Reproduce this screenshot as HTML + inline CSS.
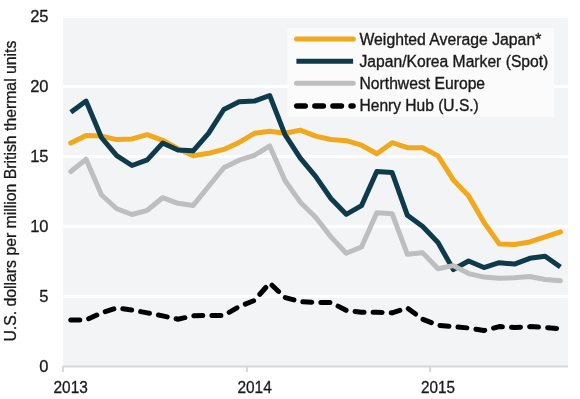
<!DOCTYPE html>
<html><head><meta charset="utf-8"><style>
html,body{margin:0;padding:0;background:#fff;width:580px;height:399px;overflow:hidden}
svg{display:block;will-change:transform}
</style></head><body>
<svg width="580" height="399" viewBox="0 0 580 399">
<rect x="0" y="0" width="580" height="399" fill="#FFFFFF"/>
<rect x="63" y="18" width="505" height="348.5" fill="#F3F4F6"/>
<rect x="63" y="295.0" width="505" height="3" fill="#FFFFFF"/>
<rect x="63" y="225.0" width="505" height="3" fill="#FFFFFF"/>
<rect x="63" y="155.0" width="505" height="3" fill="#FFFFFF"/>
<rect x="63" y="85.0" width="505" height="3" fill="#FFFFFF"/>
<rect x="287.5" y="28" width="266.5" height="89" fill="#FBFBFB"/>
<rect x="63" y="365.5" width="505" height="2" fill="#D8D8D8"/>
<rect x="61.9" y="366" width="2" height="6" fill="#D8D8D8"/>
<rect x="245.9" y="366" width="2" height="6" fill="#D8D8D8"/>
<rect x="429.1" y="366" width="2" height="6" fill="#D8D8D8"/>
<polyline points="70.80,143.10 86.10,135.40 101.40,136.10 116.70,139.60 132.00,138.90 147.30,134.70 162.60,140.30 177.90,148.70 193.20,155.70 208.50,153.32 223.80,149.40 239.10,142.40 254.40,133.30 269.70,131.20 285.00,133.30 300.30,130.08 315.60,136.10 330.90,139.46 346.20,140.72 361.50,145.20 376.80,153.74 392.10,142.68 407.40,147.72 422.70,147.72 438.00,155.84 453.30,179.92 468.60,195.88 483.90,222.20 499.20,243.90 514.50,244.46 529.80,241.94 545.10,236.90 560.40,231.86" fill="none" stroke="#F2A81C" stroke-width="5" stroke-linejoin="round" stroke-linecap="round"/>
<polyline points="70.80,112.30 86.10,101.10 101.40,137.50 116.70,155.70 132.00,165.50 147.30,159.90 162.60,143.10 177.90,150.10 193.20,150.80 208.50,133.30 223.80,109.50 239.10,101.80 254.40,101.10 269.70,95.50 285.00,134.70 300.30,158.22 315.60,176.42 330.90,198.54 346.20,214.36 361.50,205.68 376.80,171.52 392.10,172.50 407.40,215.34 422.70,226.54 438.00,242.50 453.30,269.52 468.60,260.98 483.90,267.56 499.20,262.66 514.50,264.06 529.80,258.32 545.10,256.22 560.40,267.00" fill="none" stroke="#0D3B4C" stroke-width="5" stroke-linejoin="round" stroke-linecap="butt"/>
<polyline points="70.80,171.52 86.10,159.20 101.40,194.76 116.70,208.76 132.00,214.50 147.30,210.30 162.60,197.70 177.90,203.30 193.20,205.40 208.50,186.50 223.80,167.74 239.10,160.18 254.40,155.42 269.70,145.90 285.00,180.48 300.30,202.18 315.60,217.30 330.90,236.90 346.20,253.28 361.50,246.98 376.80,212.68 392.10,213.66 407.40,254.26 422.70,252.86 438.00,268.82 453.30,265.60 468.60,273.58 483.90,277.08 499.20,278.34 514.50,277.78 529.80,276.52 545.10,279.46 560.40,280.86" fill="none" stroke="#BEBEBE" stroke-width="5" stroke-linejoin="round" stroke-linecap="round"/>
<polyline points="70.80,319.90 86.10,319.90 101.40,312.90 116.70,308.00 132.00,309.96 147.30,312.90 162.60,315.84 177.90,319.20 193.20,315.84 208.50,315.42 223.80,315.42 239.10,306.60 254.40,300.44 269.70,283.08 285.00,297.50 300.30,301.70 315.60,302.40 330.90,302.40 346.20,310.38 361.50,312.20 376.80,312.20 392.10,312.90 407.40,308.00 422.70,319.20 438.00,325.22 453.30,326.62 468.60,328.02 483.90,330.54 499.20,326.62 514.50,327.46 529.80,326.62 545.10,327.46 560.40,328.72" fill="none" stroke="#000000" stroke-width="5" stroke-linejoin="round" stroke-linecap="round" stroke-dasharray="9 9.1"/>
<line x1="296.5" y1="38.9" x2="353.3" y2="38.9" stroke="#F2A81C" stroke-width="5" stroke-linecap="round"/>
<line x1="296.4" y1="61.2" x2="353.1" y2="61.2" stroke="#0D3B4C" stroke-width="5" stroke-linecap="butt"/>
<line x1="296.5" y1="83.3" x2="353.3" y2="83.3" stroke="#BEBEBE" stroke-width="5" stroke-linecap="round"/>
<line x1="296.75" y1="105.9" x2="353.05" y2="105.9" stroke="#000000" stroke-width="5.5" stroke-linecap="round" stroke-dasharray="8.5 9.6"/>
<text x="359.5" y="44.9" font-family="Liberation Sans, sans-serif" font-size="16" fill="#1A1A1A" stroke="#1A1A1A" stroke-width="0.35" textLength="181.8" lengthAdjust="spacingAndGlyphs">Weighted Average Japan*</text>
<text x="359.5" y="66.7" font-family="Liberation Sans, sans-serif" font-size="16" fill="#1A1A1A" stroke="#1A1A1A" stroke-width="0.35" textLength="188.8" lengthAdjust="spacingAndGlyphs">Japan/Korea Marker (Spot)</text>
<text x="359.5" y="88.8" font-family="Liberation Sans, sans-serif" font-size="16" fill="#1A1A1A" stroke="#1A1A1A" stroke-width="0.35" textLength="125.6" lengthAdjust="spacingAndGlyphs">Northwest Europe</text>
<text x="359.5" y="110.7" font-family="Liberation Sans, sans-serif" font-size="16" fill="#1A1A1A" stroke="#1A1A1A" stroke-width="0.35" textLength="119.3" lengthAdjust="spacingAndGlyphs">Henry Hub (U.S.)</text>
<text x="48.5" y="372.0" font-family="Liberation Sans, sans-serif" font-size="16.5" fill="#1A1A1A" stroke="#1A1A1A" stroke-width="0.3" text-anchor="end">0</text>
<text x="48.5" y="302.0" font-family="Liberation Sans, sans-serif" font-size="16.5" fill="#1A1A1A" stroke="#1A1A1A" stroke-width="0.3" text-anchor="end">5</text>
<text x="48.5" y="232.0" font-family="Liberation Sans, sans-serif" font-size="16.5" fill="#1A1A1A" stroke="#1A1A1A" stroke-width="0.3" text-anchor="end">10</text>
<text x="48.5" y="162.0" font-family="Liberation Sans, sans-serif" font-size="16.5" fill="#1A1A1A" stroke="#1A1A1A" stroke-width="0.3" text-anchor="end">15</text>
<text x="48.5" y="92.0" font-family="Liberation Sans, sans-serif" font-size="16.5" fill="#1A1A1A" stroke="#1A1A1A" stroke-width="0.3" text-anchor="end">20</text>
<text x="48.5" y="22.0" font-family="Liberation Sans, sans-serif" font-size="16.5" fill="#1A1A1A" stroke="#1A1A1A" stroke-width="0.3" text-anchor="end">25</text>
<text x="53.5" y="393" font-family="Liberation Sans, sans-serif" font-size="16.5" fill="#1A1A1A" stroke="#1A1A1A" stroke-width="0.3" textLength="34.3" lengthAdjust="spacingAndGlyphs">2013</text>
<text x="237.4" y="393" font-family="Liberation Sans, sans-serif" font-size="16.5" fill="#1A1A1A" stroke="#1A1A1A" stroke-width="0.3" textLength="34.400000000000006" lengthAdjust="spacingAndGlyphs">2014</text>
<text x="421.0" y="393" font-family="Liberation Sans, sans-serif" font-size="16.5" fill="#1A1A1A" stroke="#1A1A1A" stroke-width="0.3" textLength="34.0" lengthAdjust="spacingAndGlyphs">2015</text>
<text transform="translate(16,341.6) rotate(-90)" x="0" y="0" font-family="Liberation Sans, sans-serif" font-size="16" fill="#1A1A1A" stroke="#1A1A1A" stroke-width="0.3" textLength="301" lengthAdjust="spacingAndGlyphs">U.S. dollars per million British thermal units</text>
</svg>
</body></html>
